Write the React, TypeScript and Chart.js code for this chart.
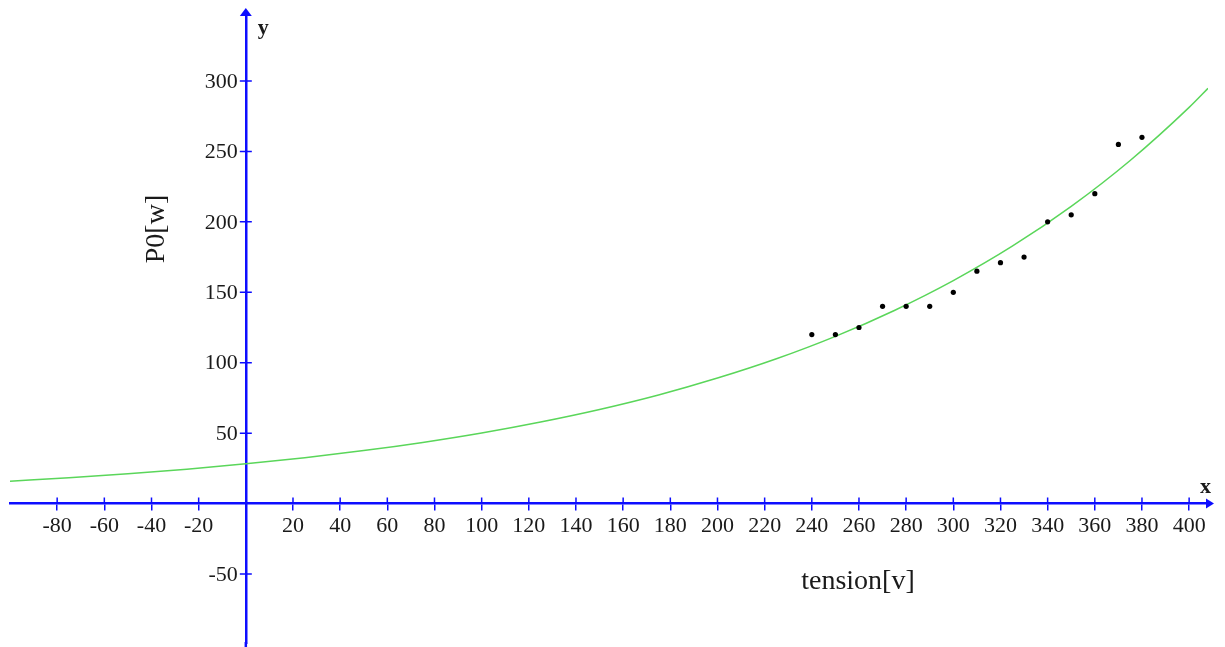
import { useEffect, useRef } from "react";
import { Chart, registerables } from "chart.js";

Chart.register(...registerables);

// Measured samples: supply voltage [V] against no-load power P0 [W]
const tensionV = [240, 250, 260, 270, 280, 290, 300, 310, 320, 330, 340, 350, 360, 370, 380];
const powerW = [120, 120, 125, 140, 140, 140, 150, 165, 171, 175, 200, 205, 220, 255, 260];

// Exponential trend curve, sampled along the voltage axis
const trendX = [-100, -75, -50, -25, 0, 25, 50, 75, 100, 125, 150, 175, 200, 225, 250, 275, 300, 325, 350, 375, 400, 408];
const trendY = [15.9, 18.3, 21.2, 24.4, 28.2, 32.6, 37.6, 43.4, 50.1, 57.9, 66.8, 77.1, 89.1, 102.8, 118.7, 137.1, 158.3, 182.7, 211.0, 243.6, 281.3, 294.8];

// Axis tick labels (origin left unlabeled)
const xTickValues = [-80, -60, -40, -20, 20, 40, 60, 80, 100, 120, 140, 160, 180, 200, 220, 240, 260, 280, 300, 320, 340, 360, 380, 400];
const yTickValues = [-50, 50, 100, 150, 200, 250, 300];

const AXIS_BLUE = "#0d0dff";
const CURVE_GREEN = "#5ad65a";
const TEXT_COLOR = "#1a1a1a";
const SERIF = "'Liberation Serif', 'Times New Roman', serif";
const TICK_HALF = 6;

// Draws the inner half of each tick, y tick labels, arrow heads, axis letters and titles
const axisDecor = {
  id: "axisDecor",
  afterDraw(chart: any) {
    const { ctx, chartArea, scales, height } = chart;
    const xs = scales.x;
    const ys = scales.y;
    const x0 = xs.getPixelForValue(0);
    const y0 = ys.getPixelForValue(0);
    ctx.save();

    // let the vertical axis run to the bottom edge
    ctx.strokeStyle = AXIS_BLUE;
    ctx.lineWidth = 2.5;
    ctx.beginPath();
    ctx.moveTo(x0, chartArea.bottom - 1);
    ctx.lineTo(x0, height);
    ctx.stroke();

    ctx.lineWidth = 1.5;
    ctx.beginPath();
    xs.ticks.forEach((t: any) => {
      const px = xs.getPixelForValue(t.value);
      ctx.moveTo(px, y0);
      ctx.lineTo(px, y0 - TICK_HALF);
    });
    ys.ticks.forEach((t: any) => {
      const py = ys.getPixelForValue(t.value);
      ctx.moveTo(x0 - TICK_HALF, py);
      ctx.lineTo(x0 + TICK_HALF, py);
    });
    ctx.stroke();

    // y tick labels
    ctx.fillStyle = TEXT_COLOR;
    ctx.font = `22px ${SERIF}`;
    ctx.textAlign = "right";
    ctx.textBaseline = "middle";
    ys.ticks.forEach((t: any) => {
      const py = ys.getPixelForValue(t.value);
      ctx.fillText(String(t.value), x0 - 8, py + 1);
    });

    // arrow heads
    ctx.fillStyle = AXIS_BLUE;
    ctx.beginPath();
    ctx.moveTo(x0, chartArea.top - 4);
    ctx.lineTo(x0 - 6, chartArea.top + 4);
    ctx.lineTo(x0 + 6, chartArea.top + 4);
    ctx.closePath();
    ctx.fill();
    ctx.beginPath();
    ctx.moveTo(chartArea.right + 6, y0);
    ctx.lineTo(chartArea.right - 2, y0 - 5);
    ctx.lineTo(chartArea.right - 2, y0 + 5);
    ctx.closePath();
    ctx.fill();

    // axis letters
    ctx.fillStyle = TEXT_COLOR;
    ctx.font = `bold 22px ${SERIF}`;
    ctx.textAlign = "left";
    ctx.textBaseline = "alphabetic";
    ctx.fillText("y", x0 + 12, 34);
    ctx.fillText("x", chartArea.right - 8, y0 - 11);

    // axis titles
    ctx.font = `28px ${SERIF}`;
    ctx.textAlign = "center";
    ctx.textBaseline = "middle";
    ctx.fillText("tension[v]", 858, 582);
    ctx.translate(157, 229);
    ctx.rotate(-Math.PI / 2);
    ctx.fillText("P0[w]", 0, 0);

    ctx.restore();
  },
};

export default function App() {
  const canvasRef = useRef<HTMLCanvasElement | null>(null);

  useEffect(() => {
    if (!canvasRef.current) return;
    const chart = new Chart(canvasRef.current, {
      type: "scatter",
      data: {
        datasets: [
          {
            label: "trend",
            data: trendX.map((x, i) => ({ x, y: trendY[i] })),
            showLine: true,
            borderColor: CURVE_GREEN,
            borderWidth: 1.5,
            pointRadius: 0,
            cubicInterpolationMode: "monotone",
            order: 2,
          },
          {
            label: "P0",
            data: tensionV.map((x, i) => ({ x, y: powerW[i] })),
            showLine: false,
            pointRadius: 2.6,
            pointBackgroundColor: "#000",
            pointBorderWidth: 0,
            order: 1,
          },
        ],
      },
      options: {
        responsive: false,
        animation: false,
        layout: { padding: { left: 10, right: 17, top: 12, bottom: 0 } },
        plugins: {
          legend: { display: false },
          tooltip: { enabled: false },
        },
        scales: {
          x: {
            type: "linear",
            position: { y: 0 },
            min: -100,
            max: 408,
            afterBuildTicks: (scale: any) => {
              scale.ticks = xTickValues.map((value) => ({ value }));
            },
            grid: {
              drawOnChartArea: false,
              drawTicks: true,
              tickLength: TICK_HALF,
              color: AXIS_BLUE,
              lineWidth: 1.5,
            },
            border: { display: true, color: AXIS_BLUE, width: 2.5 },
            ticks: {
              autoSkip: false,
              maxRotation: 0,
              padding: 3,
              color: TEXT_COLOR,
              font: { family: SERIF, size: 22 },
            },
          },
          y: {
            type: "linear",
            position: { x: 0 },
            min: -99,
            max: 349,
            afterBuildTicks: (scale: any) => {
              scale.ticks = yTickValues.map((value) => ({ value }));
            },
            grid: {
              drawOnChartArea: false,
              drawTicks: false,
            },
            border: { display: true, color: AXIS_BLUE, width: 2.5 },
            ticks: { display: false },
          },
        },
      },
      plugins: [axisDecor],
    } as any);
    return () => chart.destroy();
  }, []);

  return (
    <div style={{ position: "fixed", left: 0, top: 0, width: 1225, height: 647, background: "#fff" }}>
      <canvas ref={canvasRef} width={1225} height={647} style={{ display: "block" }} />
    </div>
  );
}
